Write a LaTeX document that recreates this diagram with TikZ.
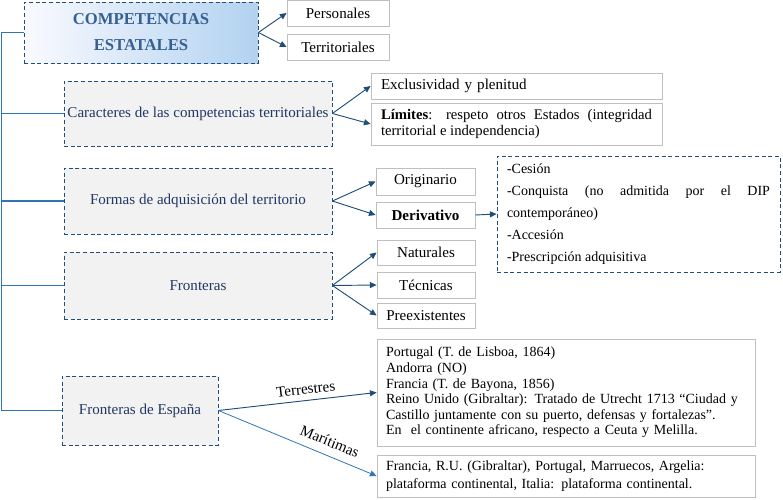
\documentclass[tikz,border=0pt]{standalone}
\usepackage{fontspec}
\setmainfont{Liberation Serif}
\usetikzlibrary{arrows.meta}

\newlength\px \setlength\px{0.75pt}
\definecolor{spineblue}{RGB}{46,117,182}
\definecolor{darkblue}{RGB}{31,78,121}
\definecolor{textblue}{RGB}{31,56,100}
\definecolor{titleblue}{RGB}{54,96,146}
\definecolor{boxgray}{RGB}{191,191,191}
\definecolor{shadeblue}{RGB}{178,210,240}

\begin{document}
\begin{tikzpicture}[
  x=\px, y=-\px,
  font=\fontsize{11.3}{13}\selectfont,
  leaf/.style={
    rectangle, draw=boxgray, line width=0.6pt,
    fill=white, inner sep=0pt, align=center
  },
  topic/.style={
    rectangle, draw=darkblue, densely dashed, line width=0.6pt,
    fill=black!5, text=textblue, inner sep=0pt,
    minimum width=268\px, align=center
  },
  title/.style={
    topic, left color=blue!2!white, right color=shadeblue,
    text=titleblue, font=\fontsize{12.5}{19.5}\selectfont\bfseries
  },
  note/.style={
    rectangle, draw=darkblue, densely dashed, line width=0.6pt,
    fill=white, inner xsep=10\px, inner ysep=0pt
  },
  link/.style={
    -{Triangle[length=5pt,width=4.5pt]},
    draw=darkblue, line width=0.7pt
  },
  spine/.style={draw=spineblue, line width=1.1pt}
]
\useasboundingbox (0,0) rectangle (783,500);

% ─── Main title ─────────────────────────────────────────────
\node[title, minimum width=234\px, minimum height=61\px] (tit) at (141,32.5) {COMPETENCIAS\\ESTATALES};

\node[leaf, minimum width=102\px, minimum height=26\px] (pers) at (338,13) {Personales};
\node[leaf, minimum width=102\px, minimum height=26\px] (terr) at (338,47) {Territoriales};

\draw[link] (tit.east) -- (pers.west);
\draw[link] (tit.east) -- (terr.west);

% ─── Caracteres ─────────────────────────────────────────────
\node[topic, minimum height=65\px] (car) at (198,113.5) {Caracteres de las competencias territoriales};

\node[leaf, minimum width=291\px, minimum height=26\px, text width=271\px, inner xsep=10\px, align=left] (excl) at (516.5,86) {Exclusividad y plenitud};
\node[leaf, minimum height=42\px, text width=271\px, inner xsep=10\px, align=justify, font=\fontsize{11}{12}\selectfont] (lim) at (516.5,124)
  {\textbf{Límites}: respeto otros Estados (integridad\linebreak territorial e independencia)};

\draw[link] (car.east) -- (excl.west);
\draw[link] (car.east) -- (lim.west);

% ─── Adquisición ────────────────────────────────────────────
\node[topic, minimum height=66\px] (form) at (198,201) {Formas de adquisición del territorio};

\node[leaf, minimum width=99\px, minimum height=27\px] (orig) at (425.5,181.5) {Originario};
\node[leaf, minimum width=99\px, minimum height=26\px, font=\fontsize{11.3}{13}\selectfont\bfseries] (deriv) at (425.5,215) {Derivativo};

\node[note, minimum height=116\px, text width=263\px, align=justify, font=\fontsize{10.5}{16.5}\selectfont] (lista) at (638.5,214)
  {-Cesión\\-Conquista (no admitida por el DIP\linebreak contemporáneo)\\-Accesión\\-Prescripción adquisitiva};

\draw[link] (form.east) -- (orig.west);
\draw[link] (form.east) -- (deriv.west);
\draw[link] (deriv.east) -- (lista.west);

% ─── Fronteras ──────────────────────────────────────────────
\node[topic, minimum height=67\px] (fron) at (198,285.5) {Fronteras};

\node[leaf, minimum width=98\px, minimum height=25\px] (nat) at (426,252.5) {Naturales};
\node[leaf, minimum width=98\px, minimum height=26\px] (tec) at (426,285) {Técnicas};
\node[leaf, minimum width=98\px, minimum height=25\px] (pre) at (426,315.5) {Preexistentes};

\draw[link] (fron.east) -- (nat.west);
\draw[link] (fron.east) -- (tec.west);
\draw[link] (fron.east) -- (pre.west);

% ─── Fronteras de España ────────────────────────────────────
\node[topic, minimum width=156\px, minimum height=69\px] (esp) at (140,410.5) {Fronteras de España};

\node[leaf, minimum height=107\px, text width=360\px, inner xsep=9\px, align=left, font=\fontsize{10.5}{11.7}\selectfont] (terrb) at (566,392.5)
  {Portugal (T. de Lisboa, 1864)\\Andorra (NO)\\Francia (T. de Bayona, 1856)\\
   Reino Unido (Gibraltar): Tratado de Utrecht 1713 “Ciudad y\\
   Castillo juntamente con su puerto, defensas y fortalezas”.\\
   En~ el continente africano, respecto a Ceuta y Melilla.};
\node[leaf, minimum height=42\px, text width=360\px, inner xsep=9\px, align=left, font=\fontsize{10.5}{13.2}\selectfont] (marb) at (566,476)
  {Francia, R.U. (Gibraltar), Portugal, Marruecos, Argelia:\\plataforma continental, Italia: plataforma continental.};

\draw[link] (esp.east) -- node[sloped, above=1pt, pos=0.56] {Terrestres} (terrb.west);
\draw[link, draw=spineblue, line width=0.6pt] (esp.east) -- node[sloped, above=3pt, pos=0.67] {Marítimas} (marb.west);

% ─── Left spine ─────────────────────────────────────────────
\coordinate (spine) at (1.5,0);
\draw[spine] (tit.west) -- (tit.west -| spine) -- (esp.west -| spine) -- (esp.west);
\draw[spine] (car.west) -- (car.west -| spine);
\draw[spine] (form.west) -- (form.west -| spine);
\draw[spine] (fron.west) -- (fron.west -| spine);

\end{tikzpicture}
\end{document}
